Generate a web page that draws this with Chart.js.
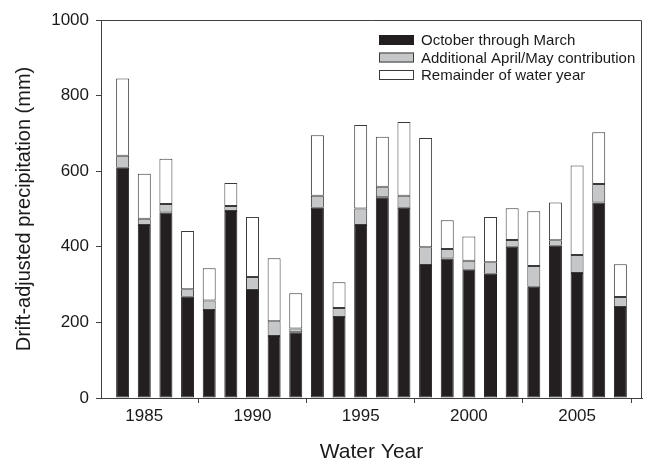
<!DOCTYPE html>
<html>
<head>
<meta charset="utf-8">
<script src="https://cdn.jsdelivr.net/npm/chart.js@4"></script>
<style>
  body { margin: 0; background: #fff; }
  canvas { display: block; }
</style>
</head>
<body>
<canvas id="chart" width="649" height="461"></canvas>
<script>
// water years and precipitation parts (mm)
const years = [1984, 1985, 1986, 1987, 1988, 1989, 1990, 1991, 1992, 1993, 1994, 1995,
  1996, 1997, 1998, 1999, 2000, 2001, 2002, 2003, 2004, 2005, 2006, 2007];
const octMar = [609, 458, 491, 268, 233, 495, 286, 164, 174, 503, 214, 458,
  531, 503, 352, 369, 339, 329, 400, 294, 403, 331, 517, 241];
const aprMay = [32, 16, 22, 20, 25, 13, 34, 39, 10, 32, 24, 43,
  28, 32, 47, 25, 24, 30, 18, 55, 14, 47, 49, 26];
const remainder = [204, 119, 120, 154, 85, 61, 159, 167, 93, 160, 68, 221,
  132, 195, 289, 76, 64, 120, 84, 145, 100, 237, 137, 87];
const yearTicks = [1985, 1990, 1995, 2000, 2005];

const FONT = '"Liberation Sans", Arial, Helvetica, sans-serif';
const AXIS = '#404040';

function points(vals) {
  return years.map((y, i) => ({ x: y, y: vals[i] }));
}

// frame around the plot + legend in the top right corner
const framePlugin = {
  id: 'frame',
  afterDatasetsDraw(chart) {
    const { ctx, chartArea: a } = chart;
    ctx.save();
    ctx.strokeStyle = AXIS;
    ctx.lineWidth = 1;
    ctx.beginPath();
    ctx.moveTo(a.left, a.top + 0.5);
    ctx.lineTo(a.right - 0.5, a.top + 0.5);
    ctx.lineTo(a.right - 0.5, a.bottom);
    ctx.stroke();

    const x = a.right - 263;
    ctx.font = '15px ' + FONT;
    ctx.textBaseline = 'middle';
    chart.data.datasets.forEach((ds, i) => {
      const y = a.top + 20 + i * 17.5;
      ctx.fillStyle = ds.backgroundColor;
      ctx.fillRect(x, y - 5, 35, 10);
      ctx.strokeStyle = ds.borderColor;
      ctx.strokeRect(x + 0.5, y - 4.5, 34, 9);
      ctx.fillStyle = '#1a1a1a';
      ctx.fillText(ds.label, x + 42, y + 1);
    });
    ctx.restore();
  }
};

new Chart(document.getElementById('chart'), {
  type: 'bar',
  data: {
    datasets: [
      { label: 'October through March', data: points(octMar),
        backgroundColor: '#231f20', borderColor: '#231f20' },
      { label: 'Additional April/May contribution', data: points(aprMay),
        backgroundColor: '#c6c7c9', borderColor: '#3a3a3a' },
      { label: 'Remainder of water year', data: points(remainder),
        backgroundColor: '#ffffff', borderColor: '#3a3a3a' }
    ]
  },
  options: {
    responsive: false,
    animation: false,
    layout: { padding: { top: 20, right: 7, left: 0, bottom: 0 } },
    datasets: {
      bar: { barPercentage: 0.6, categoryPercentage: 1, borderWidth: 1, borderSkipped: false }
    },
    plugins: { legend: { display: false }, tooltip: { enabled: false } },
    scales: {
      x: {
        type: 'linear',
        stacked: true,
        offset: false,
        min: 1983,
        max: 2008,
        afterBuildTicks: s => { s.ticks = yearTicks.map(v => ({ value: v })); },
        afterFit: s => { s.height = 63; },
        grid: { drawOnChartArea: false, drawTicks: true, tickLength: 5, color: AXIS },
        border: { display: true, color: AXIS, width: 1 },
        ticks: { color: '#1a1a1a', font: { family: FONT, size: 17 }, padding: 3,
          maxRotation: 0, callback: v => String(v) },
        title: { display: true, text: 'Water Year', color: '#1a1a1a',
          font: { family: FONT, size: 21, lineHeight: 0.8 }, padding: { top: 0, bottom: 0 } }
      },
      y: {
        stacked: true,
        min: 0,
        max: 1000,
        afterFit: s => { s.width = 101; },
        grid: { drawOnChartArea: false, drawTicks: true, tickLength: 5, color: AXIS },
        border: { display: true, color: AXIS, width: 1 },
        ticks: { stepSize: 200, color: '#1a1a1a', font: { family: FONT, size: 17 }, padding: 7,
          callback: v => String(v) },
        title: { display: true, text: 'Drift-adjusted precipitation (mm)', color: '#1a1a1a',
          font: { family: FONT, size: 20, lineHeight: 1 }, padding: { top: 14, bottom: 0 } }
      }
    }
  },
  plugins: [framePlugin]
});
</script>
</body>
</html>
